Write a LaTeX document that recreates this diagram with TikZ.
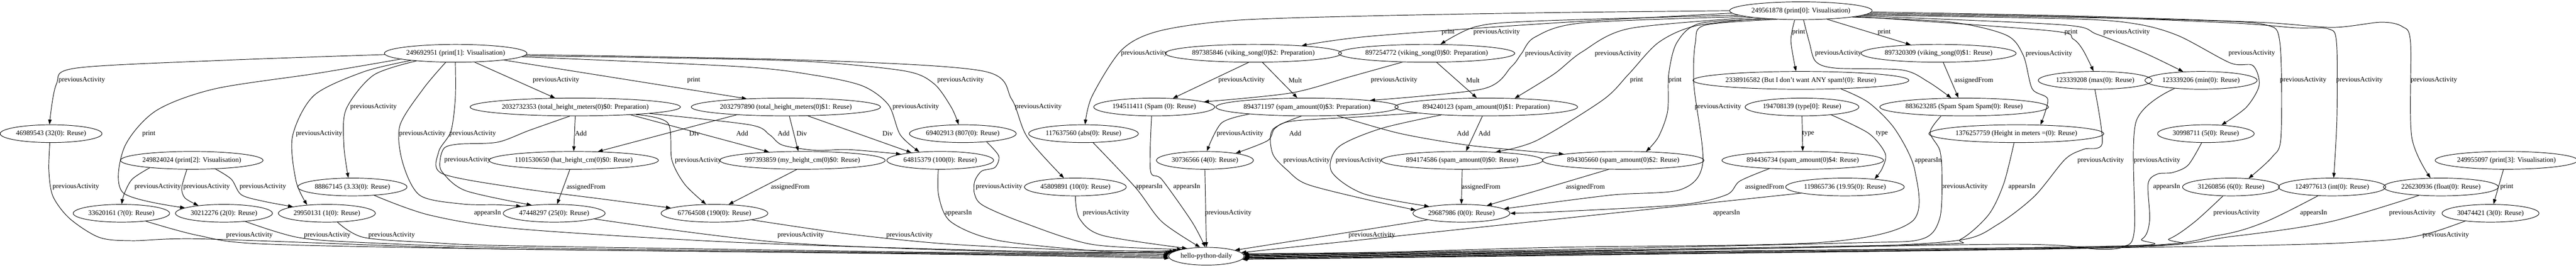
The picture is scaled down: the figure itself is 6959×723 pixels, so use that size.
\documentclass[tikz,border=0pt]{standalone}
\usepackage{fontspec}
\setmainfont{Liberation Serif}
\usetikzlibrary{arrows.meta,shapes.geometric}
\tikzset{
  nd/.style={ellipse, draw, line width=1pt, inner xsep=2pt, inner ysep=0pt, minimum height=36pt, font=\fontsize{14}{16}\selectfont},
  lbl/.style={inner sep=0pt, font=\fontsize{14}{16}\selectfont},
  e/.style={draw, line width=1pt, -{Triangle[length=10pt,width=7pt]}},
}
\begin{document}
\begin{tikzpicture}[x=0.75pt,y=-0.75pt]
\useasboundingbox (0,0) rectangle (6959,723);
\fill[white] (0,0) rectangle (6959,723);
% nodes
\node[nd] (V0) at (4865,29) {249561878 (print[0]: Visualisation)};
\node[nd] (V1) at (1231,144) {249692951 (print[1]: Visualisation)};
\node[nd] (V2) at (518,433) {249824024 (print[2]: Visualisation)};
\node[nd] (V3) at (6771,433) {249955097 (print[3]: Visualisation)};
\node[nd] (H) at (3259,692) {hello-python-daily};
\node[nd] (n32) at (138,361) {46989543 (32(0): Reuse)};
\node[nd] (nq) at (328,576) {33620161 (?(0): Reuse)};
\node[nd] (n2) at (605,576) {30212276 (2(0): Reuse)};
\node[nd] (n1) at (883,576) {29950131 (1(0): Reuse)};
\node[nd] (n333) at (952,505) {88867145 (3.33(0): Reuse)};
\node[nd] (thm0) at (1554,289) {2032732353 (total\_height\_meters(0)\$0: Preparation)};
\node[nd] (thm1) at (2123,289) {2032797890 (total\_height\_meters(0)\$1: Reuse)};
\node[nd] (hat) at (1550,433) {1101530650 (hat\_height\_cm(0)\$0: Reuse)};
\node[nd] (my) at (2168,433) {997393859 (my\_height\_cm(0)\$0: Reuse)};
\node[nd] (n100) at (2540,433) {64815379 (100(0): Reuse)};
\node[nd] (n807) at (2601,361) {69402913 (807(0): Reuse)};
\node[nd] (n25) at (1497,576) {47448297 (25(0): Reuse)};
\node[nd] (n190) at (1930,576) {67764508 (190(0): Reuse)};
\node[nd] (abs) at (2927,361) {117637560 (abs(0): Reuse)};
\node[nd] (n10) at (2905,505) {45809891 (10(0): Reuse)};
\node[nd] (vs2) at (3386,144) {897385846 (viking\_song(0)\$2: Preparation)};
\node[nd] (vs0) at (3854,144) {897254772 (viking\_song(0)\$0: Preparation)};
\node[nd] (spam) at (3118,289) {194511411 (Spam (0): Reuse)};
\node[nd] (sa3) at (3531,289) {894371197 (spam\_amount(0)\$3: Preparation)};
\node[nd] (sa1) at (4015,289) {894240123 (spam\_amount(0)\$1: Preparation)};
\node[nd] (n4) at (3255,433) {30736566 (4(0): Reuse)};
\node[nd] (sa0) at (3950,433) {894174586 (spam\_amount(0)\$0: Reuse)};
\node[nd] (sa2) at (4385,433) {894305660 (spam\_amount(0)\$2: Reuse)};
\node[nd] (n0) at (3948,576) {29687986 (0(0): Reuse)};
\node[nd] (vs1) at (5237,144) {897320309 (viking\_song(0)\$1: Reuse)};
\node[nd] (dont) at (4865,217) {2338916582 (But I don't want ANY spam!(0): Reuse)};
\node[nd] (max) at (5660,217) {123339208 (max(0): Reuse)};
\node[nd] (min) at (5946,217) {123339206 (min(0): Reuse)};
\node[nd] (ty) at (4868,289) {194708139 (type[0]: Reuse)};
\node[nd] (sss) at (5306,289) {883623285 (Spam Spam Spam(0): Reuse)};
\node[nd] (him) at (5447,361) {1376257759 (Height in meters =(0): Reuse)};
\node[nd] (sa4) at (4870,433) {894436734 (spam\_amount(0)\$4: Reuse)};
\node[nd] (n1995) at (4984,505) {119865736 (19.95(0): Reuse)};
\node[nd] (n5) at (5959,361) {30998711 (5(0): Reuse)};
\node[nd] (n6) at (6027,505) {31260856 (6(0): Reuse)};
\node[nd] (int) at (6300,505) {124977613 (int(0): Reuse)};
\node[nd] (float) at (6594,505) {226230936 (float(0): Reuse)};
\node[nd] (n3) at (6728,576) {30474421 (3(0): Reuse)};
% edges from V1
\draw[e] plot[smooth] coordinates {(V1.181) (600,163) (205,184) (152,228) (n32.100)};
\draw[e] plot[smooth] coordinates {(V1.186) (857,198) (580,240) (420,300) (335,400) (332,520) (n2.172)};
\draw[e] plot[smooth] coordinates {(V1.189) (982,194) (848,258) (790,369) (800,490) (n1.157)};
\draw[e] plot[smooth] coordinates {(V1.191) (1009,203) (935,295) (929,392) (n333.114)};
\draw[e] plot[smooth] coordinates {(V1.222) (1144,239) (1080,340) (1088,440) (1135,528) (1250,551) (1344,553) (n25.168)};
\draw[e] plot[smooth] coordinates {(V1.268) (1230,266) (1218,355) (1185,410) (1195,469) (1402,508) (1631,538) (n190.173)};
\draw[e] (V1.-25) -- (thm0.156);
\draw[e] (V1.-8) -- (thm1.168);
\draw[e] plot[smooth] coordinates {(V1.-2) (1900,158) (2200,167) (2446,192) (2523,226) (2570,290) (n807.115)};
\draw[e] plot[smooth] coordinates {(V1.-3) (2000,180) (2200,203) (2330,232) (2400,283) (2432,364) (n100.158)};
\draw[e] plot[smooth] coordinates {(V1.-1) (2200,163) (2656,192) (2733,268) (2775,370) (n10.142)};
% edges from V0
\draw[e] plot[smooth] coordinates {(V0.180) (4200,34) (3700,43) (3336,55) (3130,84) (3030,135) (2950,260) (abs.80)};
\draw[e] plot[smooth] coordinates {(V0.182) (4200,62) (3700,98) (vs2.9)};
\draw[e] plot[smooth] coordinates {(V0.184) (4147,57) (3987,72) (vs0.33)};
\draw[e] plot[smooth] coordinates {(V0.186) (4274,62) (4147,100) (4110,145) (4083,180) (4006,240) (sa3.6)};
\draw[e] plot[smooth] coordinates {(V0.188) (4402,77) (4274,140) (4198,200) (sa1.17)};
\draw[e] plot[smooth] coordinates {(V0.191) (4580,70) (4480,115) (4400,200) (4330,270) (4150,380) (sa0.14)};
\draw[e] plot[smooth] coordinates {(V0.195) (4593,63) (4530,115) (4508,200) (4505,300) (4480,370) (sa2.21)};
\draw[e] plot[smooth] coordinates {(V0.200) (4606,68) (4580,115) (4576,230) (4600,440) (4540,512) (4350,527) (n0.6)};
\draw[e] plot[smooth] coordinates {(V0.236) (4838,110) (dont.118)};
\draw[e] plot[smooth] coordinates {(V0.286) (4888,115) (4905,166) (4959,184) (5138,189) (5209,221) (sss.145)};
\draw[e] (V0.-18) -- (vs1.163);
\draw[e] plot[smooth] coordinates {(V0.-7) (5272,60) (5420,95) (5466,150) (5490,240) (5532,268) (him.20)};
\draw[e] plot[smooth] coordinates {(V0.-6) (5538,83) (5600,105) (5627,135) (max.100)};
\draw[e] plot[smooth] coordinates {(V0.-5) (5570,67) (5666,93) (5793,143) (min.154)};
\draw[e] plot[smooth] coordinates {(V0.-4) (5600,51) (5773,65) (5886,97) (6025,170) (6086,177) (6103,230) (6068,290) (n5.29)};
\draw[e] plot[smooth] coordinates {(V0.-3) (5600,47) (5947,55) (6120,67) (6159,115) (6162,369) (6138,424) (n6.26)};
\draw[e] plot[smooth] coordinates {(V0.-2) (5600,45) (6030,62) (6200,75) (6290,78) (6312,115) (6313,320) (int.80)};
\draw[e] plot[smooth] coordinates {(V0.-1) (5600,43) (6100,60) (6300,74) (6432,60) (6490,72) (6512,115) (6515,369) (float.139)};
% V2
\draw[e] plot[smooth] coordinates {(V2.190) (357,484) (335,525) (nq.88)};
\draw[e] plot[smooth] coordinates {(V2.242) (491,507) (500,535) (n2.163)};
\draw[e] plot[smooth] coordinates {(V2.-20) (625,484) (652,526) (714,544) (n1.169)};
% total height
\draw[e] plot[smooth] coordinates {(thm0.239) (1430,352) (1344,384) (1241,389) (1201,399) (1189,432) (1195,465) (1258,515) (n25.160)};
\draw[e] (thm0.270) -- (hat.90);
\draw[e] plot[smooth] coordinates {(thm0.-7) (1804,332) (1815,432) (1850,498) (n190.133)};
\draw[e] (thm0.-8) -- (my.166);
\draw[e] plot[smooth] coordinates {(thm0.-5) (2025,337) (2079,364) (2114,392) (2204,406) (2293,404) (n100.171)};
\draw[e] (thm1.189) -- (hat.20);
\draw[e] (thm1.-69) -- (my.115);
\draw[e] (thm1.-22) -- (n100.165);
\draw[e] (hat.247) -- (n25.72);
\draw[e] (my.238) -- (n190.32);
% into hello-python-daily from left
\draw[e] plot[smooth] coordinates {(n100.258) (2536,530) (2570,600) (2700,650) (3000,680) (H.168)};
\draw[e] plot[smooth] coordinates {(n807.-19) (2698,421) (2688,452) (2652,462) (2633,490) (2633,525) (2656,555) (2761,600) (2950,660) (H.164)};
\draw[e] plot[smooth] coordinates {(n32.262) (132,461) (143,530) (188,590) (268,641) (357,650) (536,645) (1072,664) (1400,673) (2500,686) (H.183)};
\draw[e] plot[smooth] coordinates {(nq.-18) (536,636) (714,659) (1400,673) (2500,685) (H.181)};
\draw[e] plot[smooth] coordinates {(n2.-21) (804,641) (982,655) (1400,669) (2500,683) (H.179)};
\draw[e] plot[smooth] coordinates {(n1.-40) (982,641) (1161,655) (1400,664) (2500,681) (H.177)};
\draw[e] plot[smooth] coordinates {(n333.-21) (1161,581) (1400,618) (2000,655) (2700,677) (H.175)};
\draw[e] plot[smooth] coordinates {(n25.-8) (2114,655) (2800,682) (H.173)};
\draw[e] plot[smooth] coordinates {(n190.-10) (2293,632) (2561,659) (2900,675) (H.171)};
\draw[e] plot[smooth] coordinates {(n10.270) (2916,590) (2979,636) (H.158)};
\draw[e] plot[smooth] coordinates {(abs.-43) (3068,507) (3139,599) (H.125)};
\draw[e] plot[smooth] coordinates {(spam.254) (3108,461) (3139,485) (3220,599) (H.97)};
\draw[e] (n4.270) -- (H.90);
% into hello-python-daily from right
\draw[e] (n0.191) -- (H.12);
\draw[e] (n1995.188) -- (H.6);
\draw[e] plot[smooth] coordinates {(dont.-12) (5048,277) (5120,350) (5173,461) (5164,599) (4914,655) (4200,668) (3700,682) (H.4)};
\draw[e] plot[smooth] coordinates {(sss.201) (5214,357) (5240,405) (5246,470) (5240,590) (5190,646) (5000,656) (4200,674) (H.3)};
\draw[e] plot[smooth] coordinates {(him.256) (5413,496) (5372,580) (5297,646) (5214,660) (4200,677) (H.2)};
\draw[e] plot[smooth] coordinates {(max.268) (5679,387) (5629,403) (5579,430) (5496,530) (5397,606) (5297,648) (5000,666) (4200,679) (H.1)};
\draw[e] plot[smooth] coordinates {(min.197) (5770,330) (5766,620) (5737,666) (5670,673) (5550,662) (5300,661) (4200,681) (H.0)};
\draw[e] plot[smooth] coordinates {(n5.245) (5911,446) (5869,466) (5828,470) (5803,496) (5807,596) (5786,646) (5700,665) (4200,683) (H.-1)};
\draw[e] plot[smooth] coordinates {(n6.228) (5929,599) (5860,645) (5773,664) (4200,685) (H.-2)};
\draw[e] plot[smooth] coordinates {(int.212) (6120,599) (5990,636) (5700,667) (4200,687) (H.-3)};
\draw[e] plot[smooth] coordinates {(float.201) (6294,599) (6034,638) (5700,669) (4200,689) (H.-4)};
\draw[e] (V3.252) -- (n3.72);
\draw[e] plot[smooth] coordinates {(n3.197) (6554,632) (6424,650) (6034,664) (4200,690) (H.-5)};
% spam region
\draw[e] (vs2.242) -- (spam.25);
\draw[e] (vs2.-45) -- (sa3.137);
\draw[e] plot[smooth] coordinates {(vs0.200) (3648,207) (3488,251) (spam.6)};
\draw[e] (vs0.-42) -- (sa1.136);
\draw[e] plot[smooth] coordinates {(sa3.187) (3300,332) (n4.78)};
\draw[e] plot[smooth] coordinates {(sa3.238) (3438,350) (3438,415) (3479,461) (3532,498) (3693,539) (n0.176)};
\draw[e] plot[smooth] coordinates {(sa3.-16) (3780,360) (3965,392) (4150,410) (sa2.174)};
\draw[e] plot[smooth] coordinates {(sa1.185) (3683,315) (3491,327) (3444,347) (3424,380) (n4.13)};
\draw[e] plot[smooth] coordinates {(sa1.190) (3731,347) (3616,397) (3597,463) (3683,523) (n0.168)};
\draw[e] (sa1.247) -- (sa0.67);
\draw[e] (sa0.270) -- (n0.90);
\draw[e] (sa2.212) -- (n0.17);
\draw[e] plot[smooth] coordinates {(sa4.194) (4700,489) (4664,526) (4539,553) (4200,572) (n0.0)};
\draw[e] (ty.270) -- (sa4.90);
\draw[e] plot[smooth] coordinates {(ty.-15) (5048,360) (5093,415) (5084,456) (n1995.15)};
\draw[e] (vs1.-63) -- (sss.122);
% labels
\node[lbl] (l1) at (221,217) {previousActivity};
\node[lbl] (l2) at (402,361) {print};
\node[lbl] (l3) at (862,361) {previousActivity};
\node[lbl] (l4) at (1009,289) {previousActivity};
\node[lbl] (l5) at (1141,361) {previousActivity};
\node[lbl] (l6) at (1277,361) {previousActivity};
\node[lbl] (l7) at (1502,216) {previousActivity};
\node[lbl] (l8) at (1874,216) {print};
\node[lbl] (l8b) at (2595,217) {previousActivity};
\node[lbl] (l9) at (2474,289) {previousActivity};
\node[lbl] (l9b) at (2805,289) {previousActivity};
\node[lbl] (l10) at (3091,144) {previousActivity};
\node[lbl] (l11) at (3912,87) {print};
\node[lbl] (l12) at (4043,87) {previousActivity};
\node[lbl] (l13) at (4183,145) {previousActivity};
\node[lbl] (l14) at (4371,145) {previousActivity};
\node[lbl] (l15) at (4421,217) {print};
\node[lbl] (l16) at (4525,217) {print};
\node[lbl] (l17) at (4641,289) {previousActivity};
\node[lbl] (l18) at (4859,87) {print};
\node[lbl] (l19) at (4966,144) {previousActivity};
\node[lbl] (l20) at (5090,87) {print};
\node[lbl] (l21) at (5535,145) {previousActivity};
\node[lbl] (l22) at (5595,87) {print};
\node[lbl] (l23) at (5745,87) {previousActivity};
\node[lbl] (l24) at (6083,144) {previousActivity};
\node[lbl] (l25) at (6222,217) {previousActivity};
\node[lbl] (l26) at (6374,217) {previousActivity};
\node[lbl] (l27) at (6575,217) {previousActivity};
\node[lbl] (l28) at (426,505) {previousActivity};
\node[lbl] (l29) at (558,505) {previousActivity};
\node[lbl] (l30) at (710,505) {previousActivity};
\node[lbl] (l31) at (1263,432) {previousActivity};
\node[lbl] (l32) at (1569,360) {Add};
\node[lbl] (l33) at (1886,433) {previousActivity};
\node[lbl] (l34) at (2005,361) {Add};
\node[lbl] (l35) at (2117,361) {Add};
\node[lbl] (l36) at (1876,360) {Div};
\node[lbl] (l37) at (2166,361) {Div};
\node[lbl] (l38) at (2398,361) {Div};
\node[lbl] (l39) at (1583,505) {assignedFrom};
\node[lbl] (l40) at (2135,505) {assignedFrom};
\node[lbl] (l41) at (2589,576) {appearsIn};
\node[lbl] (l42) at (2699,505) {previousActivity};
\node[lbl] (l43) at (205,505) {previousActivity};
\node[lbl] (l44) at (674,635) {previousActivity};
\node[lbl] (l45) at (884,635) {previousActivity};
\node[lbl] (l46) at (1058,635) {previousActivity};
\node[lbl] (l47) at (1317,576) {appearsIn};
\node[lbl] (l48) at (2163,635) {previousActivity};
\node[lbl] (l49) at (2457,635) {previousActivity};
\node[lbl] (l50) at (2988,576) {previousActivity};
\node[lbl] (l51) at (3104,505) {appearsIn};
\node[lbl] (l52) at (3206,505) {appearsIn};
\node[lbl] (l53) at (3318,576) {previousActivity};
\node[lbl] (l54) at (3706,635) {previousActivity};
\node[lbl] (l55) at (4664,576) {appearsIn};
\node[lbl] (l56) at (5209,433) {appearsIn};
\node[lbl] (l57) at (5307,505) {previousActivity};
\node[lbl] (l58) at (5462,505) {appearsIn};
\node[lbl] (l59) at (5675,433) {previousActivity};
\node[lbl] (l60) at (5827,433) {previousActivity};
\node[lbl] (l61) at (5853,505) {appearsIn};
\node[lbl] (l62) at (6042,576) {previousActivity};
\node[lbl] (l63) at (6250,576) {appearsIn};
\node[lbl] (l64) at (6517,576) {previousActivity};
\node[lbl] (l65) at (6772,505) {print};
\node[lbl] (l66) at (6607,635) {previousActivity};
\node[lbl] (l67) at (3354,217) {previousActivity};
\node[lbl] (l68) at (3499,217) {Mult};
\node[lbl] (l69) at (3766,217) {previousActivity};
\node[lbl] (l70) at (3979,217) {Mult};
\node[lbl] (l71) at (3350,361) {previousActivity};
\node[lbl] (l72) at (3530,433) {previousActivity};
\node[lbl] (l73) at (3952,361) {Add};
\node[lbl] (l74) at (3499,361) {Add};
\node[lbl] (l75) at (3671,433) {previousActivity};
\node[lbl] (l76) at (4010,361) {Add};
\node[lbl] (l77) at (4001,505) {assignedFrom};
\node[lbl] (l78) at (4283,505) {assignedFrom};
\node[lbl] (l79) at (4767,505) {assignedFrom};
\node[lbl] (l80) at (4885,361) {type};
\node[lbl] (l81) at (5084,361) {type};
\node[lbl] (l82) at (5332,217) {assignedFrom};
\end{tikzpicture}
\end{document}
